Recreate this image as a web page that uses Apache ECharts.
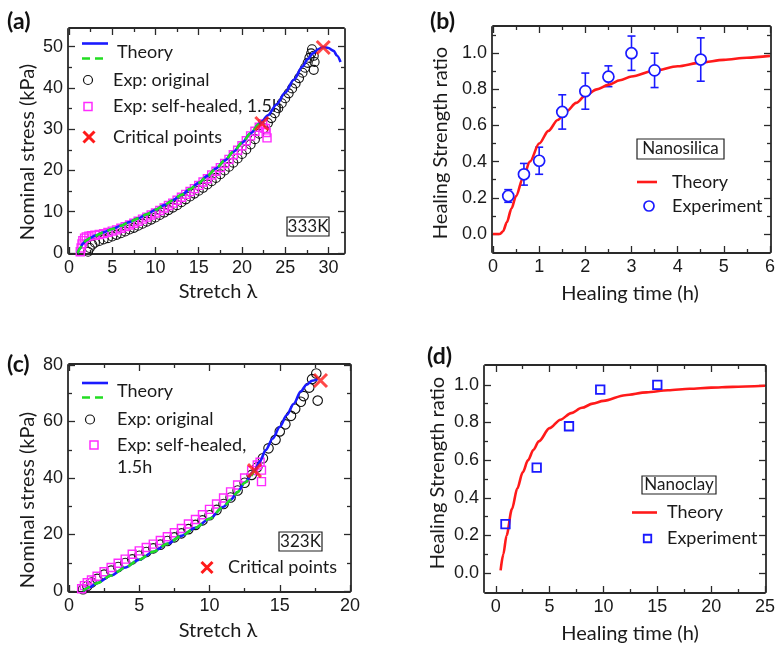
<!DOCTYPE html>
<html>
<head>
<meta charset="utf-8">
<script src="https://cdn.jsdelivr.net/npm/echarts@6/dist/echarts.min.js"></script>
<style>
  html, body { margin: 0; padding: 0; background: #fff; }
  #chart { width: 778px; height: 647px; }
</style>
</head>
<body>
<div id="chart"></div>
<script>
// ---------- (a) 333K : stress vs stretch ----------
const aTheory = [[1,0],[1.3,1.2],[1.6,2.3],[2,3.1],[2.5,3.7],[3,4.2],[4,5.0],[5,5.8],[6,6.6],[7,7.5],[8,8.4],[9,9.4],[10,10.5],[11,11.6],[12,12.8],[13,14.1],[14,15.5],[15,17.0],[16,18.7],[17,20.5],[18,22.4],[19,24.5],[20,26.7],[21,29.0],[22,31.3],[22.3,31.9],[23,33.4],[24,36.0],[25,38.9],[26,42.0],[27,45.2],[27.6,47.0],[28.2,48.4],[28.8,49.4],[29.4,49.9],[30,49.7],[30.6,49.0],[31,47.8],[31.4,46.3]];
const aTheoryHealed = [[1,0],[1.3,1.2],[1.6,2.3],[2,3.1],[2.5,3.7],[3,4.2],[4,5.0],[5,5.8],[6,6.6],[7,7.5],[8,8.4],[9,9.4],[10,10.5],[11,11.6],[12,12.8],[13,14.1],[14,15.5],[15,17.0],[16,18.7],[17,20.5],[18,22.4],[19,24.5],[20,26.7],[21,29.0],[22,31.3],[22.3,31.9]];
const aOriginal = [[2.2,0.3],[2.4,1.2],[2.7,2.0],[3.0,2.5],[3.5,2.9],[4,3.3],[4.5,3.6],[5,4.0],[5.5,4.4],[6,4.8],[6.5,5.2],[7,5.7],[7.5,6.1],[8,6.6],[8.5,7.1],[9,7.6],[9.5,8.1],[10,8.6],[10.5,9.2],[11,9.8],[11.5,10.4],[12,11.0],[12.5,11.6],[13,12.3],[13.5,13.0],[14,13.7],[14.5,14.4],[15,15.1],[15.5,15.8],[16,16.6],[16.5,17.4],[17,18.2],[17.5,19.1],[18,20.0],[18.5,20.9],[19,21.9],[19.5,22.9],[20,24.0],[20.5,25.1],[21,26.3],[21.5,27.6],[22,28.9],[22.5,30.2],[23,31.5],[23.4,32.7],[23.8,33.9],[24.2,35.1],[24.6,36.3],[25,37.5],[25.4,38.7],[25.8,39.9],[26.2,41.1],[26.6,42.4],[27,43.7],[27.3,44.9],[27.6,46.1],[27.8,47.3],[28,48.4],[28.1,49.4],[28.3,47.8],[28.4,46.3],[28.3,44.4]];
const aHealed = [[1.3,0.3],[1.4,1.2],[1.5,2.2],[1.6,3.0],[1.8,3.6],[2.0,3.9],[2.3,4.1],[2.6,4.2],[3,4.3],[3.5,4.5],[4,4.7],[4.5,5.0],[5,5.3],[5.5,5.6],[6,6.0],[6.5,6.4],[7,6.8],[7.5,7.2],[8,7.7],[8.5,8.2],[9,8.7],[9.5,9.2],[10,9.7],[10.5,10.3],[11,10.9],[11.5,11.5],[12,12.1],[12.5,12.8],[13,13.5],[13.5,14.2],[14,14.9],[14.5,15.6],[15,16.4],[15.5,17.2],[16,18.0],[16.5,18.9],[17,19.8],[17.5,20.7],[18,21.7],[18.5,22.7],[19,23.8],[19.5,24.9],[20,26.0],[20.5,27.2],[21,28.4],[21.5,29.5],[22,30.5],[22.4,31.3],[22.7,30.2],[22.8,29.2],[22.9,27.9]];
const aCritical = [[22.3,31.4],[29.4,49.8]];
const aXTicks = [0,5,10,15,20,25,30];
const aXMinor = [2.5,7.5,12.5,17.5,22.5,27.5];
const aYTicks = [0,10,20,30,40,50];
const aYMinor = [5,15,25,35,45];

// ---------- (b) Nanosilica : healing ratio vs time ----------
const bTheory = [[0,0],[0.15,0],[0.22,0.015],[0.3,0.065],[0.4,0.14],[0.5,0.21],[0.65,0.31],[0.8,0.4],[1.0,0.5],[1.2,0.57],[1.4,0.63],[1.6,0.68],[1.8,0.725],[2.0,0.765],[2.25,0.8],[2.5,0.825],[2.75,0.85],[3.0,0.871],[3.5,0.904],[4.0,0.928],[4.5,0.948],[5.0,0.963],[5.5,0.975],[6.0,0.985]];
const bTime = [0.33,0.67,1.0,1.5,2.0,2.5,3.0,3.5,4.5];
const bRatio = [0.21,0.33,0.405,0.675,0.79,0.87,1.0,0.905,0.965];
const bErrLow = [0.175,0.27,0.33,0.58,0.69,0.815,0.905,0.81,0.845];
const bErrHigh = [0.245,0.39,0.48,0.77,0.89,0.93,1.095,1.0,1.085];
const bXTicks = [0,1,2,3,4,5,6];
const bXMinor = [0.5,1.5,2.5,3.5,4.5,5.5];
const bYTicks = [0,0.2,0.4,0.6,0.8,1.0];
const bYMinor = [0.1,0.3,0.5,0.7,0.9,1.1];

// ---------- (c) 323K : stress vs stretch ----------
const cTheory = [[1,0],[1.5,1.4],[2,2.8],[3,5.5],[4,8.3],[5,11.1],[6,13.9],[7,16.7],[8,19.5],[9,22.4],[10,25.6],[11,29.8],[11.5,32.3],[12,35.0],[12.5,38.3],[13.2,42.6],[13.6,46.0],[14,49.9],[14.5,54.0],[15,58.1],[15.5,62.3],[16,66.3],[16.5,70.7],[16.9,73.0],[17.3,74.4],[17.7,75.0]];
const cTheoryHealed = [[1,0],[1.5,1.4],[2,2.8],[3,5.5],[4,8.3],[5,11.1],[6,13.9],[7,16.7],[8,19.5],[9,22.4],[10,25.6],[11,29.8],[11.5,32.3],[12,35.0],[12.5,38.3],[13.2,42.6]];
const cOriginal = [[1,0.6],[1.3,1.8],[1.6,3.0],[2,4.3],[2.5,5.8],[3,7.2],[3.5,8.5],[4,9.9],[4.5,11.2],[5,12.5],[5.5,13.8],[6,15.1],[6.5,16.4],[7,17.7],[7.5,19.0],[8,20.4],[8.5,21.9],[9,23.4],[9.5,25.0],[10,26.8],[10.5,28.7],[11,30.8],[11.5,33.1],[12,35.6],[12.5,38.3],[13,41.1],[13.4,43.8],[13.8,47.0],[14.2,50.5],[14.7,53.5],[15,56.5],[15.4,59.0],[15.8,62.0],[16.1,64.5],[16.5,67.0],[16.7,69.0],[17.1,72.0],[17.3,75.0],[17.6,77.0],[17.7,67.4]];
const cHealed = [[0.9,0.8],[1.1,1.9],[1.3,2.9],[1.6,3.9],[2,5.2],[2.5,6.8],[3,8.3],[3.5,9.8],[4,11.3],[4.5,13.0],[5,14.2],[5.5,15.4],[6,16.6],[6.5,17.9],[7,19.2],[7.5,20.6],[8,22.1],[8.5,23.7],[9,25.3],[9.5,27.0],[10,28.9],[10.5,30.8],[11,32.9],[11.5,35.1],[12,37.5],[12.5,40.0],[13,42.6],[13.4,44.6],[13.6,45.6],[13.7,42.8],[13.7,38.7]];
const cCritical = [[13.2,42.6],[17.9,74.5]];
const cXTicks = [0,5,10,15,20];
const cXMinor = [2.5,7.5,12.5,17.5];
const cYTicks = [0,20,40,60,80];
const cYMinor = [10,30,50,70];

// ---------- (d) Nanoclay : healing ratio vs time ----------
const dTheory = [[0.45,0.015],[0.7,0.1],[1,0.2],[1.5,0.34],[2,0.45],[2.5,0.535],[3,0.6],[3.5,0.655],[4,0.7],[5,0.77],[6,0.815],[7,0.85],[8,0.878],[9,0.9],[10,0.915],[12,0.945],[14,0.96],[16,0.971],[18,0.979],[20,0.985],[22,0.989],[25,0.995]];
const dTime = [0.9,3.8,6.8,9.7,15];
const dRatio = [0.26,0.56,0.78,0.975,1.0];
const dXTicks = [0,5,10,15,20,25];
const dXMinor = [2.5,7.5,12.5,17.5,22.5];
const dYTicks = [0,0.2,0.4,0.6,0.8,1.0];
const dYMinor = [0.1,0.3,0.5,0.7,0.9];

// ---------- styling ----------
const BLUE = '#1a1aff', GREEN = '#22dd22', MAGENTA = '#ff2bff', RED = '#ff1a1a', INK = '#1a1a1a';
const FRAME = '#2a2a2a';
const TICK_FONT = 'Liberation Sans';
const TEXT_FONT = 'Lato';
const X_MARK = 'path://M0 0L10 10M10 0L0 10';

const grids = [
  { left: 69,  top: 29,  width: 275, height: 224 },
  { left: 493, top: 27,  width: 280, height: 225 },
  { left: 69,  top: 365, width: 281, height: 226 },
  { left: 485, top: 366, width: 282, height: 226 }
].map(g => Object.assign(g, { containLabel: false }));

// four axes per dimension: labelled majors, minors, mirrored majors, mirrored minors;
// the axis lines of the near and far axes close the plot frame
function frameAxes(isX, gridIndex, min, max, majors, minors, fmt) {
  const near = isX ? 'bottom' : 'left', far = isX ? 'top' : 'right';
  const tickLine = { color: FRAME, width: 1.3 };
  const base = (pos, withLine) => ({
    type: 'value', gridIndex, min, max, position: pos, offset: 1,
    axisLine: { show: withLine, onZero: false, lineStyle: { color: FRAME, width: 1.8 } },
    splitLine: { show: false }, axisLabel: { show: false }
  });
  const tick = (vals, len) => ({ show: true, inside: true, length: len, customValues: vals, lineStyle: tickLine });
  const main = base(near, true);
  main.axisTick = tick(majors, 7);
  main.axisLabel = { show: true, customValues: majors, formatter: fmt, margin: 5, fontFamily: TICK_FONT, fontSize: 18, color: INK };
  const a2 = base(near, false); a2.axisTick = tick(minors, 4);
  const a3 = base(far, true); a3.axisTick = tick(majors, 7);
  const a4 = base(far, false); a4.axisTick = tick(minors, 4);
  return [main, a2, a3, a4];
}
const intFmt = v => String(Math.round(v));
const decFmt = v => v.toFixed(1);

const xAxes = [].concat(
  frameAxes(true, 0, 0, 31.8, aXTicks, aXMinor, intFmt),
  frameAxes(true, 1, 0, 6, bXTicks, bXMinor, intFmt),
  frameAxes(true, 2, 0, 20, cXTicks, cXMinor, intFmt),
  frameAxes(true, 3, -1, 25, dXTicks, dXMinor, intFmt)
);
const yAxes = [].concat(
  frameAxes(false, 0, 0, 54.3, aYTicks, aYMinor, intFmt),
  frameAxes(false, 1, -0.1, 1.145, bYTicks, bYMinor, decFmt),
  frameAxes(false, 2, 0, 80, cYTicks, cYMinor, intFmt),
  frameAxes(false, 3, -0.1, 1.1, dYTicks, dYMinor, decFmt)
);
const ax = g => ({ xAxisIndex: 4 * g, yAxisIndex: 4 * g });

function theoryLine(g, data, color, dashed, z) {
  return Object.assign({
    type: 'line', data, showSymbol: false, smooth: 0.3, smoothMonotone: 'x', z: z || 4,
    lineStyle: { color, width: 2.6, type: dashed ? [8, 5] : 'solid' }
  }, ax(g));
}
function openMarks(g, data, symbol, size, color, width, fill, z) {
  return Object.assign({
    type: 'scatter', data, symbol, symbolSize: size, z: z || 3,
    itemStyle: { color: fill || 'rgba(0,0,0,0)', borderColor: color, borderWidth: width, opacity: 1 }
  }, ax(g));
}
function crossMarks(g, data) {
  return Object.assign({
    type: 'scatter', data, symbol: X_MARK, symbolSize: 13, z: 6,
    itemStyle: { color: 'none', borderColor: RED, borderWidth: 3 }
  }, ax(g));
}

const series = [
  // (a)
  openMarks(0, aOriginal, 'circle', 9, '#111', 1.1),
  openMarks(0, aHealed, 'rect', 8, MAGENTA, 1.4),
  theoryLine(0, aTheory, BLUE, false, 4),
  theoryLine(0, aTheoryHealed, GREEN, true, 5),
  crossMarks(0, aCritical),
  // (b) error bars, theory, experiment
  Object.assign({
    type: 'custom', z: 3,
    data: bTime.map((t, i) => [t, bErrLow[i], bErrHigh[i]]),
    encode: { x: 0, y: [1, 2] },
    renderItem: (params, api) => {
      const lo = api.coord([api.value(0), api.value(1)]);
      const hi = api.coord([api.value(0), api.value(2)]);
      const cap = 4, st = { stroke: BLUE, lineWidth: 1.6 };
      return { type: 'group', children: [
        { type: 'line', shape: { x1: lo[0], y1: lo[1], x2: hi[0], y2: hi[1] }, style: st },
        { type: 'line', shape: { x1: lo[0] - cap, y1: lo[1], x2: lo[0] + cap, y2: lo[1] }, style: st },
        { type: 'line', shape: { x1: hi[0] - cap, y1: hi[1], x2: hi[0] + cap, y2: hi[1] }, style: st }
      ] };
    }
  }, ax(1)),
  theoryLine(1, bTheory, RED, false, 4),
  openMarks(1, bTime.map((t, i) => [t, bRatio[i]]), 'circle', 11, BLUE, 1.7, '#fff', 5),
  // (c)
  openMarks(2, cOriginal, 'circle', 9.5, '#111', 1.1),
  openMarks(2, cHealed, 'rect', 8, MAGENTA, 1.4),
  theoryLine(2, cTheory, BLUE, false, 4),
  theoryLine(2, cTheoryHealed, GREEN, true, 5),
  crossMarks(2, cCritical),
  // (d)
  theoryLine(3, dTheory, RED, false, 4),
  openMarks(3, dTime.map((t, i) => [t, dRatio[i]]), 'rect', 8.5, BLUE, 1.8, 'rgba(0,0,0,0)', 5)
];

// ---------- text, legends and boxes ----------
const LEG_FONT = '18px ' + TEXT_FONT;
function txt(text, x, y) {
  return { type: 'text', x, y, style: { text, fill: INK, font: LEG_FONT, align: 'left', verticalAlign: 'middle' } };
}
function vTitle(text, x, y) {
  return { type: 'text', x, y, rotation: Math.PI / 2, style: { text, fill: INK, font: '20px ' + TEXT_FONT, align: 'center', verticalAlign: 'middle' } };
}
function hTitle(text, x, y) {
  return { type: 'text', x, y, style: { text, fill: INK, font: '20px ' + TEXT_FONT, align: 'center', verticalAlign: 'middle' } };
}
function panelTag(text, x, y) {
  return { type: 'text', x, y, style: { text, fill: '#111', font: 'bold 23px ' + TEXT_FONT, align: 'left', verticalAlign: 'middle' } };
}
function hLine(x1, x2, y, color, dashed) {
  return { type: 'line', shape: { x1, y1: y, x2, y2: y }, style: { stroke: color, lineWidth: 2.6, lineDash: dashed ? [8, 5] : null } };
}
function legCircle(cx, cy, r, color, w) {
  return { type: 'circle', shape: { cx, cy, r }, style: { fill: 'rgba(0,0,0,0)', stroke: color, lineWidth: w } };
}
function legSquare(cx, cy, s, color, w) {
  return { type: 'rect', shape: { x: cx - s / 2, y: cy - s / 2, width: s, height: s }, style: { fill: 'rgba(0,0,0,0)', stroke: color, lineWidth: w } };
}
function legCross(cx, cy, h) {
  return { type: 'group', children: [
    { type: 'line', shape: { x1: cx - h, y1: cy - h, x2: cx + h, y2: cy + h }, style: { stroke: RED, lineWidth: 3 } },
    { type: 'line', shape: { x1: cx + h, y1: cy - h, x2: cx - h, y2: cy + h }, style: { stroke: RED, lineWidth: 3 } }
  ] };
}
function boxLabel(text, x, y, w, h) {
  return { type: 'group', children: [
    { type: 'rect', shape: { x, y, width: w, height: h }, style: { fill: '#fff', stroke: '#222', lineWidth: 1.2 } },
    { type: 'text', x: x + w / 2, y: y + h / 2, style: { text, fill: INK, font: '17px ' + TEXT_FONT, align: 'center', verticalAlign: 'middle' } }
  ] };
}

const graphics = [
  panelTag('(a)', 7, 22), panelTag('(b)', 430, 22), panelTag('(c)', 7, 365), panelTag('(d)', 427, 357),
  vTitle('Nominal stress (kPa)', 28, 152), hTitle('Stretch λ', 218, 292),
  vTitle('Healing Strength ratio', 441, 143), hTitle('Healing time (h)', 630, 294),
  vTitle('Nominal stress (kPa)', 28, 500), hTitle('Stretch λ', 218, 631),
  vTitle('Healing Strength ratio', 438, 473), hTitle('Healing time (h)', 630, 634),

  // (a) legend
  hLine(82, 108, 43.5, BLUE, false), hLine(82, 108, 58.5, GREEN, true), txt('Theory', 117, 52),
  legCircle(88, 80, 4.5, '#111', 1.2), txt('Exp: original', 113, 80),
  legSquare(88, 106.5, 8, MAGENTA, 1.5), txt('Exp: self-healed, 1.5h', 113, 106.5),
  legCross(89, 137, 5.5), txt('Critical points', 113, 137),
  boxLabel('333K', 287, 217, 42, 19),

  // (b) legend
  boxLabel('Nanosilica', 637, 139, 87, 20),
  hLine(637, 657, 182, RED, false), txt('Theory', 672, 182),
  legCircle(649, 206, 5, BLUE, 1.7), txt('Experiment', 672, 206),

  // (c) legend
  hLine(82, 108, 383, BLUE, false), hLine(82, 108, 397.5, GREEN, true), txt('Theory', 117, 391),
  legCircle(90, 419.5, 4.5, '#111', 1.2), txt('Exp: original', 117, 419.5),
  legSquare(94, 445, 8, MAGENTA, 1.5), txt('Exp: self-healed,', 117, 445), txt('1.5h', 117, 467),
  boxLabel('323K', 279, 532, 43, 19),
  legCross(207, 567.5, 5.5), txt('Critical points', 228, 567.5),

  // (d) legend
  boxLabel('Nanoclay', 642, 476, 74, 18),
  hLine(632, 657, 512.5, RED, false), txt('Theory', 667, 512.5),
  legSquare(647.5, 538.5, 7.5, BLUE, 1.8), txt('Experiment', 667, 538.5)
];

const chart = echarts.init(document.getElementById('chart'), null, { renderer: 'canvas' });
chart.setOption({
  animation: false,
  backgroundColor: '#fff',
  grid: grids,
  xAxis: xAxes,
  yAxis: yAxes,
  series,
  graphic: { elements: graphics }
});
</script>
</body>
</html>
